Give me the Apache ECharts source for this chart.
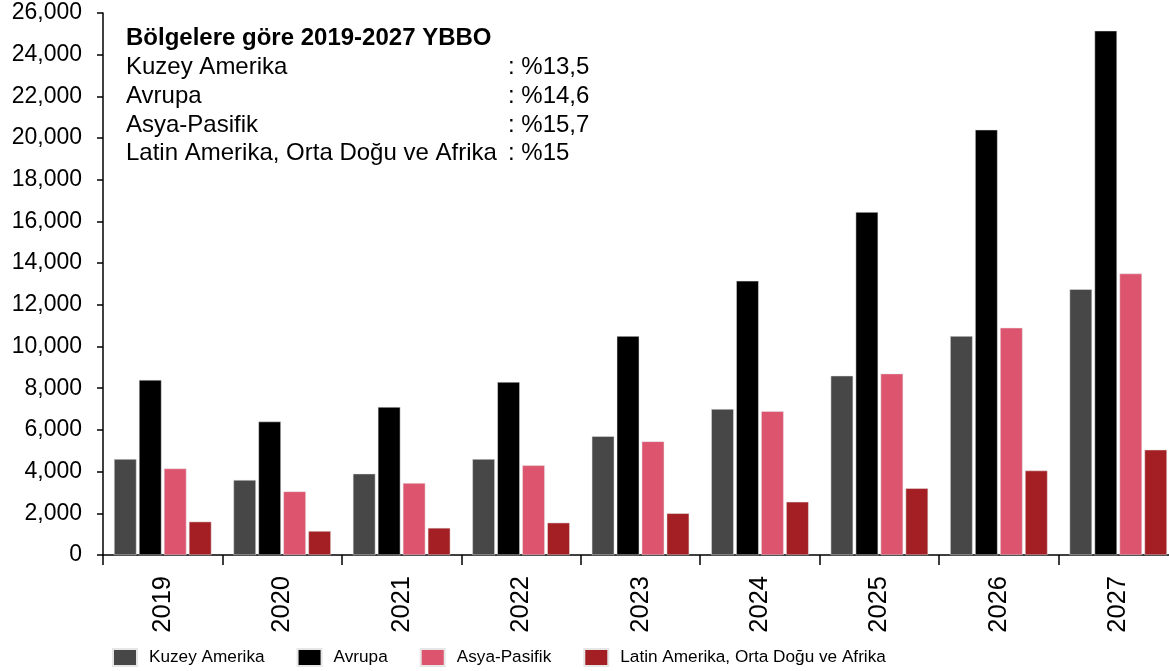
<!DOCTYPE html>
<html>
<head>
<meta charset="utf-8">
<script src="https://cdn.jsdelivr.net/npm/echarts@6/dist/echarts.min.js"></script>
<style>
html,body{margin:0;padding:0;background:#fff;overflow:hidden;}
#chart{width:1178px;height:671px;}
</style>
</head>
<body>
<div id="chart"></div>
<script>
const years = ['2019','2020','2021','2022','2023','2024','2025','2026','2027'];
const seriesNames = ['Kuzey Amerika','Avrupa','Asya-Pasifik','Latin Amerika, Orta Doğu ve Afrika'];
const kuzeyAmerika = [4600, 3600, 3900, 4600, 5700, 7000, 8600, 10500, 12750];
const avrupa       = [8400, 6400, 7100, 8300, 10500, 13150, 16450, 20400, 25150];
const asyaPasifik  = [4150, 3050, 3450, 4300, 5450, 6900, 8700, 10900, 13500];
const latinAmerika = [1600, 1150, 1300, 1550, 2000, 2550, 3200, 4050, 5050];
const yTicks = [0, 26000, 2000];
const noteTitle = 'Bölgelere göre 2019-2027 YBBO';
const noteLabels = ['Kuzey Amerika','Avrupa','Asya-Pasifik','Latin Amerika, Orta Doğu ve Afrika'];
const noteValues = [': %13,5', ': %14,6', ': %15,7', ': %15'];

const colors = ['#474747', '#000000', '#DC546E', '#A31F23'];
const font = '"Liberation Sans", Arial, sans-serif';
const values = [kuzeyAmerika, avrupa, asyaPasifik, latinAmerika];

const chart = echarts.init(document.getElementById('chart'));

const graphics = [{
  type: 'text', left: 126, top: 26,
  style: { text: noteTitle, font: 'bold 24px ' + font, fill: '#000' }
}];
noteLabels.forEach((t, i) => {
  graphics.push({ type: 'text', left: 126, top: 55.5 + i * 28.7,
    style: { text: t, font: '24px ' + font, fill: '#000' } });
  graphics.push({ type: 'text', left: 508, top: 55.5 + i * 28.7,
    style: { text: noteValues[i], font: '24px ' + font, fill: '#000' } });
});

chart.setOption({
  animation: false,
  color: colors,
  textStyle: { fontFamily: font },
  grid: { left: 103, top: 13, right: 0, height: 542, containLabel: false },
  legend: {
    top: 648, left: 112, padding: 0,
    itemWidth: 24, itemHeight: 17, itemGap: 32,
    icon: 'rect',
    textStyle: { fontSize: 17.2, color: '#000', fontFamily: font, padding: [0, 0, 0, 7] },
    data: seriesNames
  },
  xAxis: {
    type: 'category', data: years,
    axisLine: { lineStyle: { color: '#000', width: 1.5 } },
    axisTick: { show: true, alignWithLabel: false, length: 10, lineStyle: { color: '#000', width: 1.5 } },
    axisLabel: { rotate: 90, fontSize: 25.5, color: '#000', margin: 21, fontFamily: font }
  },
  yAxis: {
    type: 'value', min: yTicks[0], max: yTicks[1], interval: yTicks[2],
    splitLine: { show: false },
    axisLine: { show: true, lineStyle: { color: '#000', width: 1.5 } },
    axisTick: { show: true, length: 6, lineStyle: { color: '#000', width: 1.5 } },
    axisLabel: { fontSize: 23, color: '#000', margin: 21, fontFamily: font,
      formatter: v => v.toLocaleString('en-US') }
  },
  graphic: graphics,
  series: seriesNames.map((n, i) => ({
    name: n, type: 'bar', data: values[i],
    barWidth: 22.5, barGap: '11%',
    itemStyle: { color: colors[i], borderColor: '#e6e6e6', borderWidth: 0.5 }
  }))
});
</script>
</body>
</html>
